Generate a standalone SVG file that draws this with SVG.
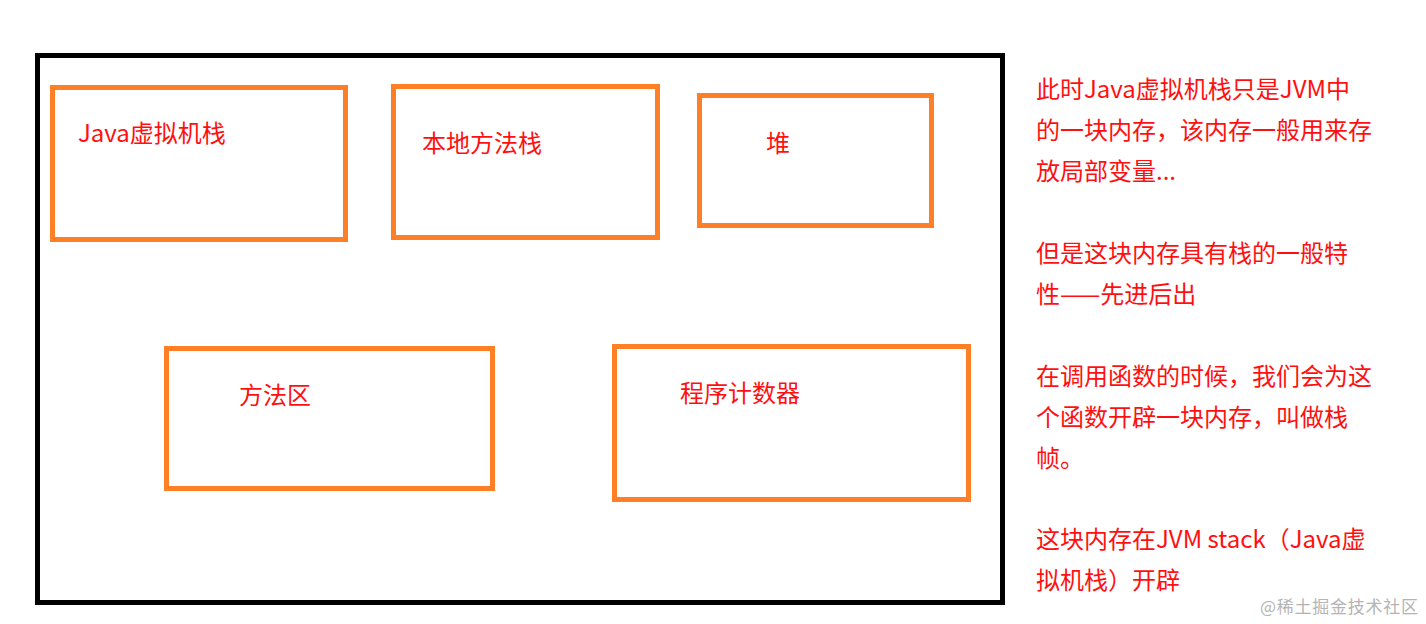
<svg xmlns="http://www.w3.org/2000/svg" width="1426" height="624" viewBox="0 0 1426 624">
<style>
.frame{fill:none;stroke:#000;stroke-width:5}
.box{fill:none;stroke:#ff7f27;stroke-width:5}
.lbl{font-family:"Noto Sans CJK SC","Noto Sans",sans-serif;font-size:24px;fill:#ff1010}
.note{font-family:"Noto Sans CJK SC","Noto Sans",sans-serif;font-size:24px;fill:#ff1010}
.wm{font-family:"Noto Sans CJK SC",sans-serif;font-size:17px;fill:#b4b4b4}
</style>
<rect width="1426" height="624" fill="#fff"/>
<g id="jvm-frame"><rect class="frame" x="37.5" y="55.5" width="965" height="547"/></g>
<g id="node-java-stack"><rect class="box" x="52.5" y="87.5" width="293" height="152"/><text class="lbl" x="78" y="142">Java虚拟机栈</text></g>
<g id="node-native-stack"><rect class="box" x="393.5" y="86.5" width="264" height="151"/><text class="lbl" x="422" y="152">本地方法栈</text></g>
<g id="node-heap"><rect class="box" x="699.5" y="95.5" width="232" height="130"/><text class="lbl" x="766" y="152">堆</text></g>
<g id="node-method-area"><rect class="box" x="166.5" y="348.5" width="326" height="140"/><text class="lbl" x="239" y="404">方法区</text></g>
<g id="node-pc"><rect class="box" x="614.5" y="346.5" width="354" height="153"/><text class="lbl" x="680" y="402">程序计数器</text></g>
<g id="notes" class="note">
<text x="1036" y="98">此时Java虚拟机栈只是JVM中</text>
<text x="1036" y="139">的一块内存，该内存一般用来存</text>
<text x="1036" y="180">放局部变量...</text>
<text x="1036" y="262">但是这块内存具有栈的一般特</text>
<text x="1036" y="303">性——先进后出</text>
<text x="1036" y="385">在调用函数的时候，我们会为这</text>
<text x="1036" y="426">个函数开辟一块内存，叫做栈</text>
<text x="1036" y="467">帧。</text>
<text x="1036" y="548">这块内存在JVM stack（Java虚</text>
<text x="1036" y="589">拟机栈）开辟</text>
</g>
<text class="wm" x="1260" y="613" textLength="158">@稀土掘金技术社区</text>
</svg>
